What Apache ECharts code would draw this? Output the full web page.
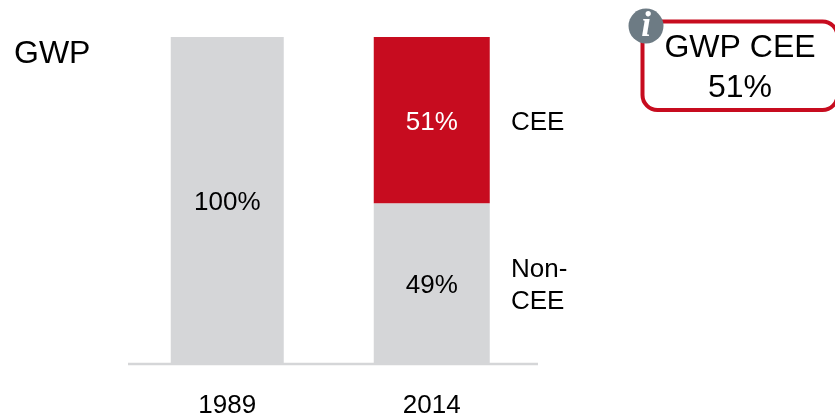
<!DOCTYPE html>
<html><head><meta charset="utf-8">
<style>html,body{margin:0;padding:0;background:#fff}#c{width:835px;height:415px}</style>
<script src="https://cdn.jsdelivr.net/npm/echarts@6/dist/echarts.min.js"></script>
</head><body><div id="c"></div>
<script>
const categories = ['1989', '2014'];
const total1989 = [100, null];
const nonCee2014 = [null, 49];
const cee2014 = [null, 51];
const metricTitle = 'GWP';
const segmentNames = ['CEE', 'Non-\nCEE'];
const calloutText = 'GWP CEE\n51%';

const FONT = '"Liberation Sans", Arial, sans-serif';
const GREY = '#d5d6d8', RED = '#c70c1f';
const valueLabel = color => ({
  show: true, position: 'inside', offset: [0, 3], formatter: '{c}%',
  fontFamily: FONT, fontSize: 26, color: color
});
const chart = echarts.init(document.getElementById('c'), null, {renderer: 'canvas'});
chart.setOption({
  animation: false,
  backgroundColor: '#fff',
  grid: {left: 125, top: 37, width: 409, height: 326, containLabel: false, outerBoundsMode: 'none'},
  xAxis: [
    {type: 'category', data: categories,
     axisLine: {show: false}, axisTick: {show: false},
     axisLabel: {fontFamily: FONT, fontSize: 26, color: '#000', margin: 30}},
    {type: 'category', data: categories, position: 'bottom', show: false}
  ],
  yAxis: {type: 'value', min: 0, max: 100, show: false},
  series: [
    {name: '1989', type: 'bar', xAxisIndex: 0, barWidth: 113, data: total1989,
     itemStyle: {color: GREY}, label: valueLabel('#000')},
    {name: 'Non-CEE', type: 'bar', xAxisIndex: 1, stack: 's', barWidth: 116, data: nonCee2014,
     itemStyle: {color: GREY}, label: valueLabel('#000')},
    {name: 'CEE', type: 'bar', xAxisIndex: 1, stack: 's', barWidth: 116, data: cee2014,
     itemStyle: {color: RED}, label: valueLabel('#fff')}
  ],
  graphic: [
    {type: 'line', shape: {x1: 128, y1: 364, x2: 538, y2: 364}, style: {stroke: GREY, lineWidth: 2.5}},
    {type: 'text', left: 14, top: 38, style: {text: metricTitle, font: '32px ' + FONT, fill: '#000'}},
    {type: 'text', left: 511, top: 107, style: {text: segmentNames[0], font: '26px ' + FONT, fill: '#000', lineHeight: 32}},
    {type: 'text', left: 511, top: 254, style: {text: segmentNames[1], font: '26px ' + FONT, fill: '#000', lineHeight: 32}},
    {type: 'rect', shape: {x: 642.5, y: 21.5, width: 195, height: 88.5, r: 15}, style: {fill: '#fff', stroke: RED, lineWidth: 4}},
    {type: 'text', x: 740, y: 68, style: {text: calloutText, font: '32px ' + FONT, fill: '#000', align: 'center', verticalAlign: 'middle', lineHeight: 40}},
    {type: 'circle', shape: {cx: 646, cy: 26, r: 17.5}, style: {fill: '#6d7b84'}},
    {type: 'text', x: 646, y: 27, style: {text: 'i', font: 'italic bold 35px "Liberation Serif", serif', fill: '#fff', align: 'center', verticalAlign: 'middle'}}
  ]
});
</script></body></html>
